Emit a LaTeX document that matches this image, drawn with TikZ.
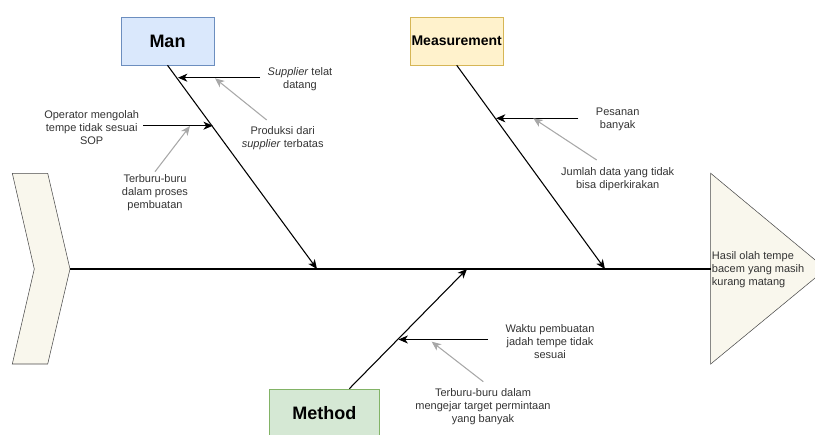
\documentclass[tikz,border=0pt]{standalone}
\usepackage{fontspec}
\setmainfont{Liberation Sans}
\usetikzlibrary{arrows.meta}
\definecolor{manfill}{HTML}{DAE8FC}
\definecolor{manline}{HTML}{6C8EBF}
\definecolor{measfill}{HTML}{FFF2CC}
\definecolor{measline}{HTML}{D6B656}
\definecolor{methfill}{HTML}{D5E8D4}
\definecolor{methline}{HTML}{82B366}
\definecolor{fishfill}{HTML}{F9F7ED}
\definecolor{fishline}{HTML}{4A4A4A}
\definecolor{txtcol}{HTML}{333333}
\definecolor{hintcol}{HTML}{A8A8A8}

\begin{document}
\begin{tikzpicture}[x=0.75pt,y=-0.75pt,
    cat/.style={rectangle,draw,minimum width=70pt,minimum height=36pt,inner sep=0pt,font=\bfseries\fontsize{13.5}{16}\selectfont},
    txt/.style={align=center,text=txtcol,inner sep=0pt,font=\fontsize{8.25}{9.75}\selectfont},
    cause/.style={-{Stealth[length=7pt,width=6pt,inset=2pt]},line width=0.8pt},
    hint/.style={-{Stealth[length=7pt,width=6pt,inset=2pt]},line width=0.8pt,color=hintcol}]
    \useasboundingbox (0,0) rectangle (815,435);

    %tail and head
    \draw [fishline,fill=fishfill] (12.3,173.3) -- (47.7,173.3) -- (70,269) -- (47.7,364) -- (12.3,364) -- (34.3,269) -- cycle;
    \draw [fishline,fill=fishfill] (710.7,173.3) -- (826,269) -- (710.7,364) -- cycle;
    \coordinate (T) at (70,269);
    \coordinate (H) at (710.7,269);
    \node (Eff) at (711.7,270) [anchor=west,txt,align=left]{Hasil olah tempe\\bacem yang masih\\kurang matang};

    %category boxes
    \node (Man) at (167.5,41) [cat,fill=manfill,draw=manline]{Man};
    \node (Meas) at (456.7,41) [cat,fill=measfill,draw=measline,font=\bfseries\fontsize{10.5}{12}\selectfont]{Measurement};
    \node (Meth) at (324.3,413) [cat,minimum width=82.5pt,fill=methfill,draw=methline]{Method};

    %spine
    \coordinate (B1) at (317,269);
    \coordinate (B2) at (605,269);
    \coordinate (B3) at (467,269);
    \draw [line width=0.9pt] (T) to (H);

    %bones
    \draw [cause] (Man.south) to (B1);
    \draw [cause] (Meas.south) to (B2);
    \draw [cause] ([xshift=18.75pt]Meth.north) to (B3);

    %man causes
    \coordinate (C11) at (260,77.7);   \coordinate (E11) at (178,77.7);
    \coordinate (C12) at (143.3,125.7); \coordinate (E12) at (212.8,125.7);
    \coordinate (S11) at (266.7,120);  \coordinate (F11) at (215,78.3);
    \coordinate (S12) at (155,171.7);  \coordinate (F12) at (190,126);
    \node (L11) at (300,79) [txt]{\textit{Supplier} telat\\datang};
    \node (L12) at (91.7,127.5) [txt]{Operator mengolah\\tempe tidak sesuai\\SOP};
    \node (K11) at (282.7,138) [txt]{Produksi dari\\\textit{supplier} terbatas};
    \node (K12) at (155,193) [txt]{Terburu-buru\\dalam proses\\pembuatan};
    \draw [cause] (C11) to (E11);
    \draw [cause] (C12) to (E12);
    \draw [hint] (S11) to (F11);
    \draw [hint] (S12) to (F12);

    %measurement causes
    \coordinate (C21) at (578.3,118.3); \coordinate (E21) at (496,118.3);
    \coordinate (S21) at (596.7,160);   \coordinate (F21) at (533.3,118.3);
    \node (L21) at (617.7,119.7) [txt]{Pesanan\\banyak};
    \node (K21) at (617.7,179.5) [txt]{Jumlah data yang tidak\\bisa diperkirakan};
    \draw [cause] (C21) to (E21);
    \draw [hint] (S21) to (F21);

    %method causes
    \coordinate (C31) at (488,339.5);   \coordinate (E31) at (398.5,339.5);
    \coordinate (S31) at (483.3,381.7); \coordinate (F31) at (431.7,341.7);
    \node (L31) at (550,341.5) [txt]{Waktu pembuatan\\jadah tempe tidak\\sesuai};
    \node (K31) at (483,406.5) [txt]{Terburu-buru dalam\\mengejar target permintaan\\yang banyak};
    \draw [cause] (C31) to (E31);
    \draw [hint] (S31) to (F31);
\end{tikzpicture}
\end{document}
